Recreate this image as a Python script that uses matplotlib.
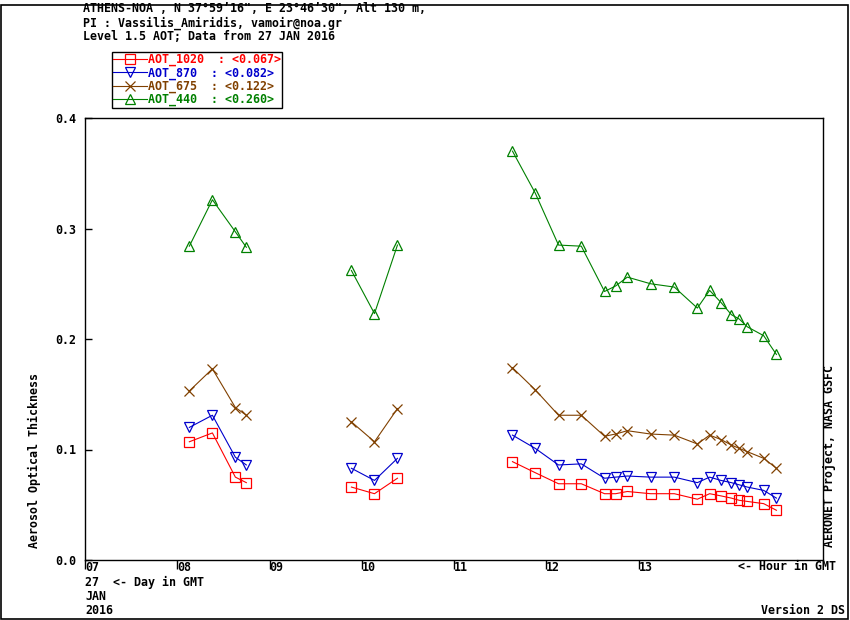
#AERONET AOT daily plot - Athens NOA, 27 Jan 2016

import numpy as np
import matplotlib
matplotlib.use('Agg')
import matplotlib.pyplot as plt
from matplotlib.patches import Rectangle

#Data (hour in GMT, AOT values)
hours = [8.131, 8.381, 8.630, 8.749,
         9.888, 10.138, 10.387,
         11.634, 11.881, 12.133, 12.380, 12.632, 12.752, 12.879, 13.131,
         13.388, 13.638, 13.771, 13.895, 14.007, 14.093, 14.180, 14.357, 14.495]
aot_440 = [0.284, 0.326, 0.297, 0.283,
           0.262, 0.223, 0.285,
           0.370, 0.332, 0.285, 0.284, 0.243, 0.248, 0.256, 0.250,
           0.247, 0.228, 0.244, 0.233, 0.222, 0.218, 0.211, 0.203, 0.186]
aot_675 = [0.153, 0.173, 0.138, 0.131,
           0.125, 0.107, 0.137,
           0.174, 0.154, 0.131, 0.131, 0.112, 0.114, 0.117, 0.114,
           0.113, 0.105, 0.113, 0.109, 0.104, 0.101, 0.098, 0.092, 0.083]
aot_870 = [0.120, 0.131, 0.093, 0.086,
           0.083, 0.072, 0.092,
           0.113, 0.101, 0.086, 0.087, 0.074, 0.075, 0.076, 0.075,
           0.075, 0.070, 0.075, 0.072, 0.070, 0.068, 0.066, 0.063, 0.056]
aot_1020 = [0.107, 0.115, 0.075, 0.070,
            0.066, 0.060, 0.074,
            0.089, 0.079, 0.069, 0.069, 0.060, 0.060, 0.062, 0.060,
            0.060, 0.055, 0.060, 0.058, 0.056, 0.054, 0.053, 0.051, 0.045]
legend_labels = ['AOT_1020  : <0.067>', 'AOT_870  : <0.082>',
                 'AOT_675  : <0.122>', 'AOT_440  : <0.260>']
hour_ticks = [7, 8, 9, 10, 11, 12, 13]
hour_labels = ['07', '08', '09', '10', '11', '12', '13']
y_ticks = [0.0, 0.1, 0.2, 0.3, 0.4]

#break the line where there is a gap in the measurements
def with_gaps(x, y, gap=0.5):
    xs, ys = [], []
    for i in range(len(x)):
        if i > 0 and x[i] - x[i-1] > gap:
            xs.append(np.nan)
            ys.append(np.nan)
        xs.append(x[i])
        ys.append(y[i])
    return xs, ys

plt.rcParams['font.family'] = 'DejaVu Sans Mono'
plt.rcParams['font.weight'] = 'bold'
fs = 8.4
txt = dict(fontsize=fs, fontweight='bold', family='DejaVu Sans Mono')

fig = plt.figure(figsize=(8.5, 6.2), dpi=100)
ax = fig.add_axes([85/850, 1-560/620, (823-85)/850, (560-118)/620])

series = [(aot_1020, '#ff0000', 's', 7.0),
          (aot_870, '#0000cc', 'v', 7.5),
          (aot_675, '#804000', 'x', 7.5),
          (aot_440, '#008000', '^', 7.5)]
handles = []
for vals, col, mk, size in series:
    xs, ys = with_gaps(hours, vals)
    h, = ax.plot(xs, ys, color=col, lw=0.8, marker=mk, ms=size,
                 mfc='none', mec=col, mew=0.9)
    handles.append(h)

leg = ax.legend(handles, legend_labels, loc='upper left',
                bbox_to_anchor=(112/850, 1-52/620), bbox_transform=fig.transFigure,
                prop={'family': 'DejaVu Sans Mono', 'weight': 'bold', 'size': fs},
                frameon=True, fancybox=False, edgecolor='black', framealpha=1,
                borderpad=0.1, labelspacing=0.0, handlelength=2.9,
                handletextpad=0.05, borderaxespad=0, markerscale=1.0,
                labelcolor='linecolor')
leg.get_frame().set_linewidth(1.0)

ax.set_xlim(7, 15)
ax.set_ylim(0, 0.4)
ax.set_xticks(hour_ticks)
ax.set_xticklabels(hour_labels, fontweight='bold')
ax.set_yticks(y_ticks)
ax.set_yticklabels(['%.1f' % v for v in y_ticks], fontweight='bold')
ax.tick_params(axis='y', direction='in', length=5, width=1, pad=6, labelsize=fs)
ax.tick_params(axis='x', direction='out', length=6.5, width=1, pad=-5.5, labelsize=fs)
for lab in ax.get_xticklabels():
    lab.set_horizontalalignment('left')
for s in ax.spines.values():
    s.set_linewidth(1.0)

#header and footer texts
fig.text(83/850, 1-9/620, 'ATHENS-NOA , N 37\u00b059\u201916", E 23\u00b046\u201930", Alt 130 m,',
         va='center', ha='left', **txt)
fig.text(83/850, 1-23/620, 'PI : Vassilis_Amiridis, vamoir@noa.gr',
         va='center', ha='left', **txt)
fig.text(83/850, 1-36/620, 'Level 1.5 AOT; Data from 27 JAN 2016',
         va='center', ha='left', **txt)
fig.text(836/850, 1-567/620, '<- Hour in GMT', va='center', ha='right', **txt)
fig.text(85/850, 1-582/620, '27  <- Day in GMT', va='center', ha='left', **txt)
fig.text(85/850, 1-597/620, 'JAN', va='center', ha='left', **txt)
fig.text(85/850, 1-611/620, '2016', va='center', ha='left', **txt)
fig.text(845/850, 1-610/620, 'Version 2 DS', va='center', ha='right', **txt)
fig.text(34/850, 1-461/620, 'Aerosol Optical Thickness',
         rotation=90, va='center', ha='center', **txt)
fig.text(830/850, 1-456/620, 'AERONET Project, NASA GSFC',
         rotation=90, va='center', ha='center', **txt)

#outer frame
fig.patches.append(Rectangle((0.5/850, 1.5/620), 847/850, 0.99, transform=fig.transFigure,
                             fill=False, ec='black', lw=1.2))

fig.savefig('out.png', dpi=100)
